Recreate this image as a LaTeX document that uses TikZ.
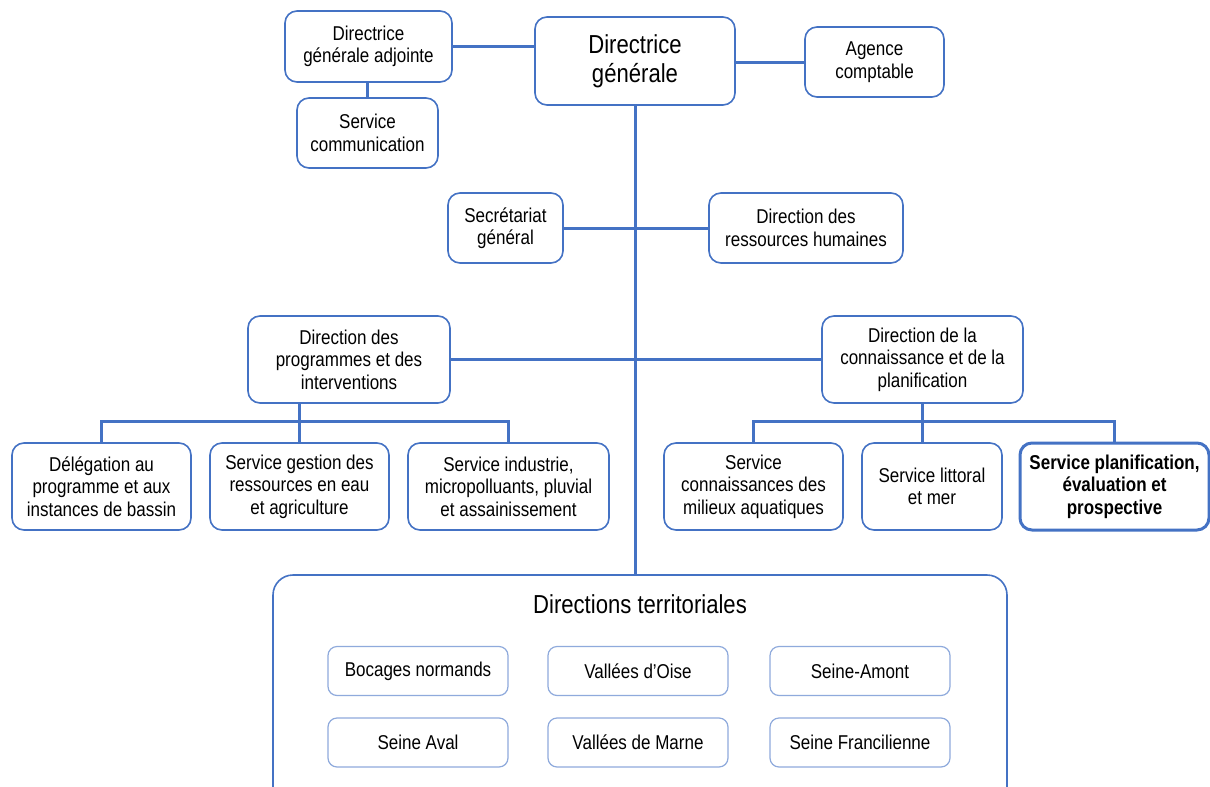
\documentclass[tikz,border=0pt]{standalone}
\usepackage{fontspec}
\setmainfont{Liberation Sans}[FakeStretch=0.85]
\definecolor{orgblue}{HTML}{4472C4}
\definecolor{dtblue}{HTML}{8FAADC}

\begin{document}
\begin{tikzpicture}[x=1pt,y=-1pt,
  box/.style={draw=orgblue,line width=1.6pt,rounded corners=12pt,fill=white,
    align=center,inner sep=0pt,font=\fontsize{20}{22.5}\selectfont},
  sub/.style={draw=dtblue,line width=1.2pt,rounded corners=9pt,align=center,
    inner sep=0pt,minimum width=180pt,minimum height=49pt,
    font=\fontsize{20}{22.5}\selectfont},
  link/.style={draw=orgblue,line width=3pt}]
\useasboundingbox (0,0) rectangle (1210,787);
\fill[white] (0,0) rectangle (1210,787);
\clip (0,0) rectangle (1210,787);

\node[box,minimum width=167pt,minimum height=71pt] (dga) at (368.5,46.5) {Directrice\\générale adjointe};
\node[box,minimum width=200pt,minimum height=88pt,font=\fontsize{26}{29}\selectfont] (dg) at (635,61) {Directrice\\générale};
\node[box,minimum width=139pt,minimum height=70pt] (ac) at (874.5,62) {Agence\\comptable};
\node[box,minimum width=141pt,minimum height=70pt] (sc) at (367.5,133) {Service\\communication};
\node[box,minimum width=115pt,minimum height=70pt] (sg) at (505.5,228) {Secrétariat\\général};
\node[box,minimum width=194pt,minimum height=70pt] (drh) at (806,228) {Direction des\\ressources humaines};
\node[box,minimum width=202pt,minimum height=87pt] (dpi) at (349,359.5) {Direction des\\programmes et des\\interventions};
\node[box,minimum width=201pt,minimum height=87pt] (dcp) at (922.5,359.5) {Direction de la\\connaissance et de la\\planification};

\node[box,minimum width=179pt,minimum height=87pt] (del) at (101.5,486.5) {Délégation au\\programme et aux\\instances de bassin};
\node[box,minimum width=179pt,minimum height=87pt] (gre) at (299.5,486.5) {Service gestion des\\ressources en eau\\et agriculture};
\node[box,minimum width=201pt,minimum height=87pt] (ind) at (508.5,486.5) {Service industrie,\\micropolluants, pluvial\\et assainissement};
\node[box,minimum width=179pt,minimum height=87pt] (cma) at (753.5,486.5) {Service\\connaissances des\\milieux aquatiques};
\node[box,minimum width=140pt,minimum height=87pt] (slm) at (932,486.5) {Service littoral\\et mer};
\node[box,minimum width=189pt,minimum height=87pt,line width=3pt,
  font=\fontsize{20}{22.5}\selectfont\bfseries] (spe) at (1114.5,486.5) {Service planification,\\évaluation et\\prospective};

\node[draw=orgblue,line width=1.6pt,rounded corners=20pt,minimum width=734pt,minimum height=260pt] (dt) at (640,705) {};
\node[font=\fontsize{26}{29}\selectfont] (dtt) at (640,604) {Directions territoriales};
\node[sub] (bn) at (418,671) {Bocages normands};
\node[sub] (vo) at (638,671) {Vallées d’Oise};
\node[sub] (sa) at (860,671) {Seine-Amont};
\node[sub] (sv) at (418,742.5) {Seine Aval};
\node[sub] (vm) at (638,742.5) {Vallées de Marne};
\node[sub] (sf) at (860,742.5) {Seine Francilienne};

\coordinate (bar) at (0,421);
\draw[link] (dga.east) -- (dga.east -| dg.west);
\draw[link] (dg.east |- ac.west) -- (ac.west);
\draw[link] (dga.south -| sc.north) -- (sc.north);
\draw[link] (dg.south) -- (dg.south |- dt.north);
\draw[link] (sg.east) -- (sg.east -| dg.south);
\draw[link] (drh.west) -- (drh.west -| dg.south);
\draw[link] (dpi.east) -- (dpi.east -| dg.south);
\draw[link] (dcp.west) -- (dcp.west -| dg.south);
\draw[link] (dpi.south -| gre.north) -- (gre.north);
\draw[link] (del.north) -- (del.north |- bar) -- (ind.north |- bar) -- (ind.north);
\draw[link] (dcp.south) -- (dcp.south |- slm.north);
\draw[link] (cma.north) -- (cma.north |- bar) -- (spe.north |- bar) -- (spe.north);
\end{tikzpicture}
\end{document}
